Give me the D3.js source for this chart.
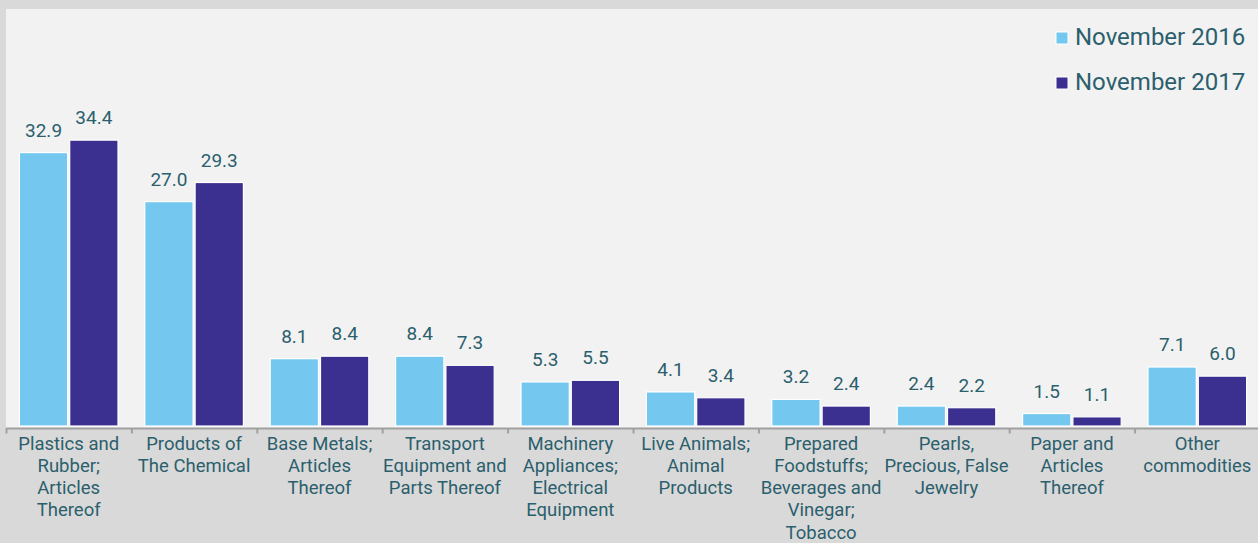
<!DOCTYPE html>
<html>
<head>
<meta charset="utf-8">
<script src="https://cdn.jsdelivr.net/npm/d3@7"></script>
<style>
  html, body { margin: 0; padding: 0; background: #d9d9d9; }
  svg { display: block; font-family: Roboto, "Open Sans", sans-serif; }
</style>
</head>
<body>
<div id="chart"></div>
<script>
// categories, one array of lines per tick label
var categories = [
  ["Plastics and", "Rubber;", "Articles", "Thereof"],
  ["Products of", "The Chemical"],
  ["Base Metals;", "Articles", "Thereof"],
  ["Transport", "Equipment and", "Parts Thereof"],
  ["Machinery", "Appliances;", "Electrical", "Equipment"],
  ["Live Animals;", "Animal", "Products"],
  ["Prepared", "Foodstuffs;", "Beverages and", "Vinegar;", "Tobacco"],
  ["Pearls,", "Precious, False", "Jewelry"],
  ["Paper and", "Articles", "Thereof"],
  ["Other", "commodities"]
];
var seriesNames = ["November 2016", "November 2017"];
var nov2016 = [32.9, 27.0, 8.1, 8.4, 5.3, 4.1, 3.2, 2.4, 1.5, 7.1];
var nov2017 = [34.4, 29.3, 8.4, 7.3, 5.5, 3.4, 2.4, 2.2, 1.1, 6.0];
var colors = ["#74c7ef", "#3b2f8f"];

var W = 1258, H = 543;
var plotLeft = 6, plotTop = 9, baseY = 426, axisY = 428.5;
var textColor = "#2b5f6d";

var svg = d3.select("#chart").append("svg")
    .attr("width", W)
    .attr("height", H);

// plot background
svg.append("rect")
    .attr("x", plotLeft).attr("y", plotTop)
    .attr("width", W - plotLeft).attr("height", axisY - plotTop)
    .attr("fill", "#f2f2f2");

var keys = categories.map(function(d, i) { return i; });

var x0 = d3.scaleBand()
    .domain(keys)
    .range([plotLeft, plotLeft + 1254]);

var x1 = d3.scaleBand()
    .domain([0, 1])
    .range([13.4, x0.bandwidth() - 13.4])
    .paddingInner(0.04);

var y = d3.scaleLinear()
    .domain([0, 40])
    .range([baseY, baseY - 40 * 8.31]);

var rows = keys.map(function(i) {
  return [nov2016[i], nov2017[i]];
});

var groups = svg.selectAll("g.group")
    .data(rows)
    .enter().append("g")
    .attr("class", "group")
    .attr("transform", function(d, i) { return "translate(" + x0(i) + ",0)"; });

groups.selectAll("rect")
    .data(function(d) { return d; })
    .enter().append("rect")
    .attr("x", function(d, j) { return x1(j); })
    .attr("y", function(d) { return y(d); })
    .attr("width", x1.bandwidth())
    .attr("height", function(d) { return baseY - y(d); })
    .attr("fill", function(d, j) { return colors[j]; })
    .attr("stroke", "#ffffff")
    .attr("stroke-width", 1.2);

groups.selectAll("text.val")
    .data(function(d) { return d; })
    .enter().append("text")
    .attr("class", "val")
    .attr("x", function(d, j) { return x1(j) + x1.bandwidth() / 2; })
    .attr("y", function(d) { return y(d) - 16; })
    .attr("text-anchor", "middle")
    .attr("fill", textColor)
    .style("font-size", "19px")
    .text(function(d) { return d.toFixed(1); });

// x axis
var xAxis = svg.append("g")
    .attr("transform", "translate(0," + axisY + ")");

xAxis.append("line")
    .attr("x1", plotLeft).attr("x2", W)
    .attr("stroke", "#a0a0a0").attr("stroke-width", 2);

xAxis.selectAll("line.tick")
    .data(keys)
    .enter().append("line")
    .attr("class", "tick")
    .attr("x1", function(i) { return x0(i) + 0.5; })
    .attr("x2", function(i) { return x0(i) + 0.5; })
    .attr("y1", 0).attr("y2", 5)
    .attr("stroke", "#a0a0a0").attr("stroke-width", 2);

var labels = xAxis.selectAll("text.cat")
    .data(keys)
    .enter().append("text")
    .attr("class", "cat")
    .attr("text-anchor", "middle")
    .attr("fill", textColor)
    .style("font-size", "18.5px")
    .attr("transform", function(i) { return "translate(" + (x0(i) + x0.bandwidth() / 2) + ",21)"; });

labels.selectAll("tspan")
    .data(function(i) { return categories[i]; })
    .enter().append("tspan")
    .attr("x", 0)
    .attr("y", function(d, k) { return k * 22.3; })
    .text(function(d) { return d; });

// legend
var legend = svg.selectAll("g.legend")
    .data(seriesNames)
    .enter().append("g")
    .attr("class", "legend")
    .attr("transform", function(d, i) { return "translate(1056," + (32 + i * 45) + ")"; });

legend.append("rect")
    .attr("width", 12).attr("height", 12)
    .attr("fill", function(d, i) { return colors[i]; })
    .attr("stroke", "#ffffff").attr("stroke-width", 1);

legend.append("text")
    .attr("x", 19).attr("y", 13)
    .attr("fill", textColor)
    .style("font-size", "24px")
    .text(function(d) { return d; });
</script>
</body>
</html>
